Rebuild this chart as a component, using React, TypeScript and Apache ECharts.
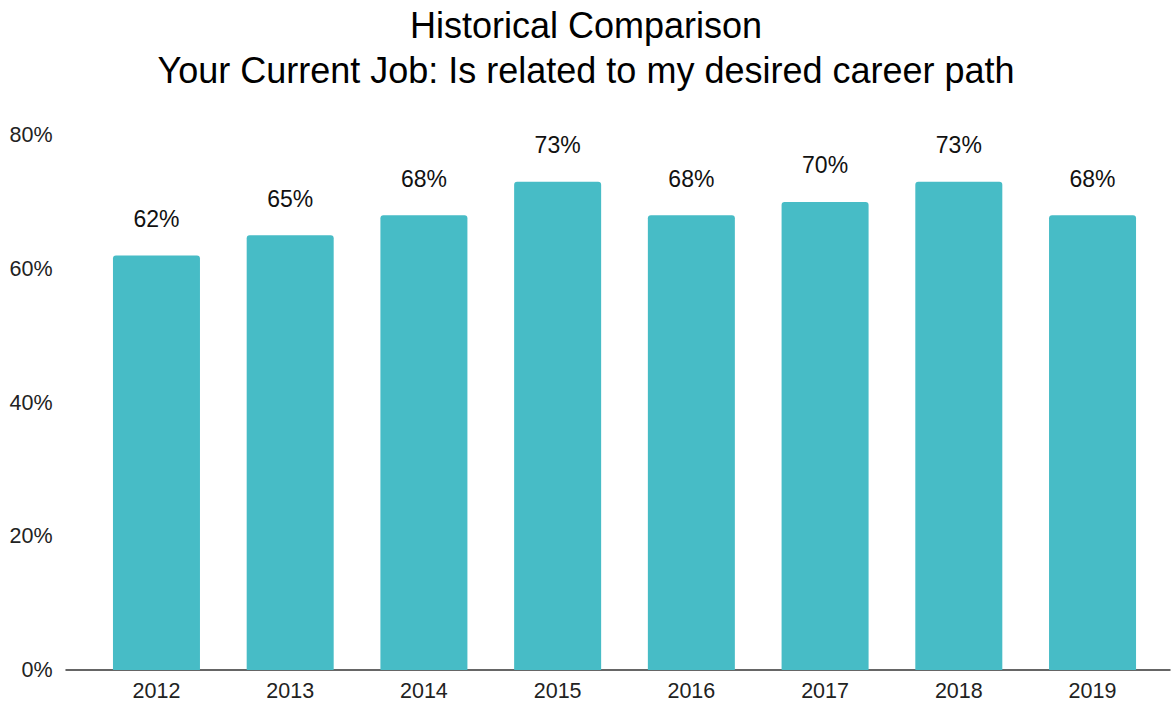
import React, { useEffect, useRef } from "react";
import * as echarts from "echarts";

const titleLines = ["Historical Comparison", "Your Current Job: Is related to my desired career path"];
const years = ["2012", "2013", "2014", "2015", "2016", "2017", "2018", "2019"];
const values = [62, 65, 68, 73, 68, 70, 73, 68];
const yTicks = [0, 20, 40, 60, 80];

export default function App() {
  const ref = useRef<HTMLDivElement>(null);
  useEffect(() => {
    if (!ref.current) return;
    const chart = echarts.init(ref.current, null, { renderer: "svg" });
    const font = "Liberation Sans, Arial, sans-serif";
    chart.setOption({
      animation: false,
      title: {
        text: titleLines.join("\n"),
        left: "center",
        top: -2,
        padding: [5, 0, 5, 14],
        textStyle: { fontFamily: font, fontSize: 36, fontWeight: "normal", color: "#000", lineHeight: 45 },
      },
      grid: [
        { left: 89.6, right: 12.6, top: 135, bottom: 35 },
        { left: 66, right: 2, top: 135, bottom: 35 },
      ],
      xAxis: [
        {
          type: "category",
          gridIndex: 0,
          data: years,
          axisLine: { show: false },
          axisTick: { show: false },
          axisLabel: { fontFamily: font, fontSize: 21.5, color: "#222", margin: 10 },
        },
        {
          type: "value",
          gridIndex: 1,
          min: 0,
          max: 1,
          axisLine: { show: true, lineStyle: { color: "#333", width: 1.5 } },
          axisTick: { show: false },
          axisLabel: { show: false },
          splitLine: { show: false },
        },
      ],
      yAxis: [
        {
          type: "value",
          gridIndex: 0,
          min: yTicks[0],
          max: yTicks[yTicks.length - 1],
          interval: 20,
          axisLine: { show: false },
          axisTick: { show: false },
          splitLine: { show: false },
          axisLabel: { fontFamily: font, fontSize: 21.5, color: "#222", margin: 37, formatter: "{value}%" },
        },
        {
          type: "value",
          gridIndex: 1,
          min: 0,
          max: 1,
          show: false,
        },
      ],
      series: [
        {
          type: "bar",
          xAxisIndex: 0,
          yAxisIndex: 0,
          data: values,
          barWidth: 87,
          itemStyle: { color: "#47BCC6", borderRadius: [3, 3, 0, 0] },
          label: {
            show: true,
            position: "top",
            distance: 25,
            formatter: "{c}%",
            fontFamily: font,
            fontSize: 23,
            color: "#111",
          },
        },
      ],
    });
    return () => chart.dispose();
  }, []);
  return <div ref={ref} style={{ width: 1172, height: 705, position: "absolute", left: 0, top: 0 }} />;
}
